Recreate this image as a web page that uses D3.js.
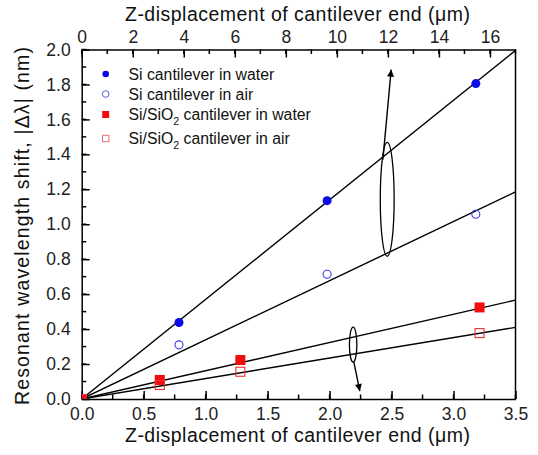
<!DOCTYPE html>
<html>
<head>
<meta charset="utf-8">
<script src="https://cdn.jsdelivr.net/npm/d3@7"></script>
<style>
  body { margin: 0; background: #fff; }
  svg { font-family: "Liberation Sans", Arial, sans-serif; }
  .axis path, .axis line { stroke: #000; stroke-width: 1.5; }
  .axis text { font-size: 17.5px; fill: #222; }
  .title { font-size: 19.5px; fill: #111; }
  .legend text { font-size: 15.8px; fill: #111; }
</style>
</head>
<body>
<svg width="538" height="455"></svg>
<script>
// Data (bottom axis in um, shift in nm)
const seriesNames = ["Si cantilever in water", "Si cantilever in air", "Si/SiO2 cantilever in water", "Si/SiO2 cantilever in air"];
const siWaterX = [0, 0.785, 1.98, 3.18];
const siWaterY = [0, 0.438, 1.135, 1.805];
const siAirX = [0, 0.785, 1.98, 3.18];
const siAirY = [0, 0.31, 0.714, 1.057];
const sio2WaterX = [0, 0.63, 1.28, 3.21];
const sio2WaterY = [0, 0.109, 0.223, 0.524];
const sio2AirX = [0, 0.63, 1.28, 3.21];
const sio2AirY = [0, 0.08, 0.156, 0.377];
// linear fits through origin, value at x = 3.5
const fitEnd = [1.995, 1.185, 0.566, 0.41];

const xTicks = [0, 0.5, 1, 1.5, 2, 2.5, 3, 3.5];
const xTopTicks = [0, 2, 4, 6, 8, 10, 12, 14, 16];
const yTicks = [0, 0.2, 0.4, 0.6, 0.8, 1.0, 1.2, 1.4, 1.6, 1.8, 2.0];

// annotations: ellipses [cx, cy, rx, ry] and arrows [x1, y1, x2, y2] in data units
const ellipses = [[2.465, 1.143, 0.056, 0.326], [2.19, 0.311, 0.03, 0.10]];
const arrows = [[2.43, 1.37, 2.497, 1.885], [2.196, 0.211, 2.244, 0.045]];

const svg = d3.select("svg");
const margin = { top: 49.5, right: 22.5, bottom: 56, left: 81.7 };
const width = 538 - margin.left - margin.right;
const height = 455 - margin.top - margin.bottom;
const g = svg.append("g").attr("transform", `translate(${margin.left}, ${margin.top})`);

const x = d3.scaleLinear().domain([0, 3.5]).range([0, width]);
const xTop = d3.scaleLinear().domain([0, 17]).range([0, width]);
const y = d3.scaleLinear().domain([0, 2]).range([height, 0]);

const defs = svg.append("defs");
defs.append("clipPath").attr("id", "plot")
  .append("rect").attr("width", width).attr("height", height);

defs.append("marker")
  .attr("id", "head")
  .attr("viewBox", "0 0 10 10")
  .attr("refX", 10).attr("refY", 5)
  .attr("markerWidth", 10).attr("markerHeight", 7)
  .attr("markerUnits", "userSpaceOnUse")
  .attr("orient", "auto")
  .append("path").attr("d", "M0,0 L10,5 L0,10 z").attr("fill", "#000");

// minor ticks (drawn inside)
const minorX = d3.range(0, 3.5001, 0.25);
const minorXTop = d3.range(0, 17.001, 1);
const minorY = d3.range(0, 2.0001, 0.1);

g.append("g").selectAll("line").data(minorX).join("line")
  .attr("x1", d => x(d)).attr("x2", d => x(d))
  .attr("y1", height).attr("y2", height - 4.5)
  .attr("stroke", "#000").attr("stroke-width", 1.5);
g.append("g").selectAll("line").data(minorXTop).join("line")
  .attr("x1", d => xTop(d)).attr("x2", d => xTop(d))
  .attr("y1", 0).attr("y2", 4.5)
  .attr("stroke", "#000").attr("stroke-width", 1.5);
g.append("g").selectAll("line").data(minorY).join("line")
  .attr("x1", 0).attr("x2", 4.5)
  .attr("y1", d => y(d)).attr("y2", d => y(d))
  .attr("stroke", "#000").attr("stroke-width", 1.5);

// axes
g.append("g").attr("class", "axis")
  .attr("transform", `translate(0, ${height})`)
  .call(d3.axisBottom(x).tickValues(xTicks).tickFormat(d3.format(".1f")).tickSizeInner(-8).tickSizeOuter(0).tickPadding(8.5));

g.append("g").attr("class", "axis")
  .call(d3.axisTop(xTop).tickValues(xTopTicks).tickFormat(d3.format("d")).tickSizeInner(-8).tickSizeOuter(0).tickPadding(7));

g.append("g").attr("class", "axis")
  .call(d3.axisLeft(y).tickValues(yTicks).tickFormat(d3.format(".1f")).tickSizeInner(-8).tickSizeOuter(0).tickPadding(11));

g.append("line")
  .attr("x1", width).attr("x2", width).attr("y1", 0).attr("y2", height)
  .attr("stroke", "#000").attr("stroke-width", 1.5);

// fit lines
const plot = g.append("g").attr("clip-path", "url(#plot)");
plot.selectAll(".fit").data(fitEnd).join("line")
  .attr("class", "fit")
  .attr("x1", x(0)).attr("y1", y(0))
  .attr("x2", x(3.5)).attr("y2", d => y(d))
  .attr("stroke", "#000").attr("stroke-width", 1.4);

// annotations
g.selectAll(".ell").data(ellipses).join("ellipse")
  .attr("class", "ell")
  .attr("cx", d => x(d[0])).attr("cy", d => y(d[1]))
  .attr("rx", d => x(d[2]) - x(0)).attr("ry", d => y(0) - y(d[3]))
  .attr("fill", "none").attr("stroke", "#000").attr("stroke-width", 1.3);

g.selectAll(".arr").data(arrows).join("line")
  .attr("class", "arr")
  .attr("x1", d => x(d[0])).attr("y1", d => y(d[1]))
  .attr("x2", d => x(d[2])).attr("y2", d => y(d[3]))
  .attr("stroke", "#000").attr("stroke-width", 1.4)
  .attr("marker-end", "url(#head)");

// data points
const pts = (xs, ys) => xs.map((v, i) => [v, ys[i]]);

plot.selectAll(".siw").data(pts(siWaterX, siWaterY)).join("circle")
  .attr("cx", d => x(d[0])).attr("cy", d => y(d[1])).attr("r", 4.5)
  .attr("fill", "#0a0ae6");
plot.selectAll(".sia").data(pts(siAirX, siAirY)).join("circle")
  .attr("cx", d => x(d[0])).attr("cy", d => y(d[1])).attr("r", 4)
  .attr("fill", "none").attr("stroke", "#3a3ae8").attr("stroke-width", 1.1);
plot.selectAll(".sow").data(pts(sio2WaterX, sio2WaterY)).join("rect")
  .attr("x", d => x(d[0]) - 5).attr("y", d => y(d[1]) - 5)
  .attr("width", 10).attr("height", 10).attr("fill", "#f20c0c");
plot.selectAll(".soa").data(pts(sio2AirX, sio2AirY)).join("rect")
  .attr("x", d => x(d[0]) - 4.5).attr("y", d => y(d[1]) - 4.5)
  .attr("width", 9).attr("height", 9)
  .attr("fill", "none").attr("stroke", "#e83030").attr("stroke-width", 1.1);

// legend
const legendY = [74, 94, 114.5, 138.5];
const legend = svg.append("g").attr("class", "legend");
legend.append("circle").attr("cx", 105.7).attr("cy", legendY[0]).attr("r", 3.3).attr("fill", "#0a0ae6");
legend.append("circle").attr("cx", 105.7).attr("cy", legendY[1]).attr("r", 3.3)
  .attr("fill", "none").attr("stroke", "#5a5ae8").attr("stroke-width", 1);
legend.append("rect").attr("x", 102.2).attr("y", legendY[2] - 3.5).attr("width", 7).attr("height", 7).attr("fill", "#f20c0c");
legend.append("rect").attr("x", 102.5).attr("y", legendY[3] - 3.2).attr("width", 6.4).attr("height", 6.4)
  .attr("fill", "none").attr("stroke", "#e87070").attr("stroke-width", 1);

seriesNames.forEach((name, i) => {
  const t = legend.append("text").attr("x", 128.5).attr("y", legendY[i] + 5.7);
  const parts = name.split("SiO2");
  if (parts.length > 1) {
    t.append("tspan").text(parts[0] + "SiO");
    t.append("tspan").attr("dy", 5).attr("font-size", "10.5px").text("2");
    t.append("tspan").attr("dy", -5).text(parts[1]);
  } else {
    t.text(name);
  }
});

// titles
svg.append("text").attr("class", "title")
  .attr("text-anchor", "middle")
  .attr("x", 297.5).attr("y", 442)
  .attr("textLength", 345).attr("lengthAdjust", "spacing")
  .text("Z-displacement of cantilever end (\u03bcm)");
svg.append("text").attr("class", "title")
  .attr("text-anchor", "middle")
  .attr("x", 297.5).attr("y", 21)
  .attr("textLength", 345).attr("lengthAdjust", "spacing")
  .text("Z-displacement of cantilever end (\u03bcm)");
svg.append("text").attr("class", "title")
  .attr("text-anchor", "middle")
  .attr("transform", `translate(28.5, 226) rotate(-90)`)
  .attr("textLength", 358).attr("lengthAdjust", "spacing")
  .text("Resonant wavelength shift, |\u0394\u03bb| (nm)");
</script>
</body>
</html>
